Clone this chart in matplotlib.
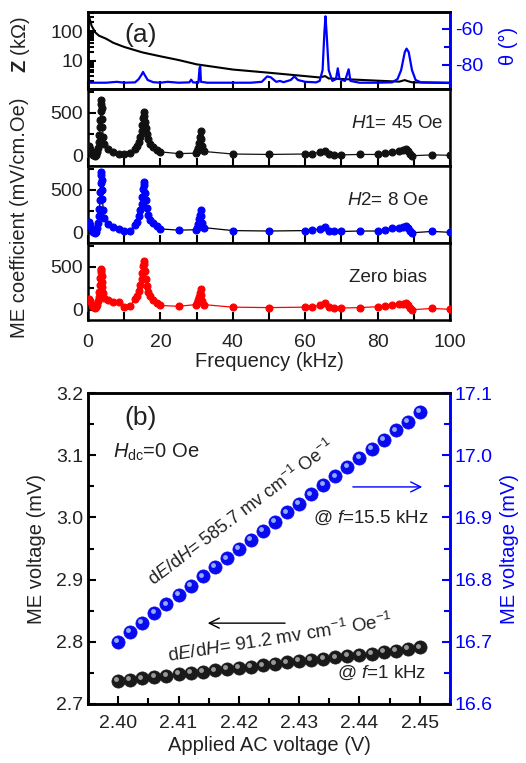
import matplotlib
matplotlib.use("Agg")
import matplotlib.pyplot as plt
from matplotlib.ticker import MultipleLocator, NullFormatter
from matplotlib.transforms import offset_copy

plt.rcParams['font.family'] = ['Liberation Sans', 'DejaVu Sans']
plt.rcParams['mathtext.fontset'] = 'custom'
plt.rcParams['mathtext.rm'] = 'Liberation Sans'
plt.rcParams['mathtext.it'] = 'Liberation Sans:italic'
plt.rcParams['mathtext.bf'] = 'Liberation Sans:bold'
plt.rcParams['axes.unicode_minus'] = False

TXT = '#222222'
BLUE = '#0000ff'
TS = 14     # tick label size
LS = 14.5   # axis label size

# ---- panel (a) top: impedance and phase ----
z_freq = [0.1, 0.5, 1, 2, 3, 5, 7, 10, 15, 20, 25, 30, 40, 50, 60, 64, 65.5, 66.5,
          70, 80, 86, 87.5, 88.5, 89.5, 100]
z_val = [400, 250, 150, 90, 70, 55, 40, 29, 19, 14, 10.5, 7.5, 5.0, 3.9, 3.0, 2.7, 3.0, 2.5,
         2.4, 2.1, 1.95, 2.2, 2.0, 1.85, 1.75]

th_freq = [0, 0.5, 5, 8, 10, 13, 14, 14.8, 15.2, 15.6, 16.5, 18, 20, 22, 25, 28, 28.5, 29,
           30.5, 30.8, 31, 31.2, 33, 45, 48, 49.5, 50.5, 52, 53, 54, 56, 57, 58, 60, 63, 64,
           64.8, 65.3, 65.6, 65.9, 66.5, 67.5, 68.5, 69, 69.5, 71, 72, 72.5, 75, 80, 84, 85.5,
           86.5, 87.5, 88, 88.6, 89.5, 90.5, 92, 100]
th_val = [-87, -90, -90, -89.5, -90, -89.8, -88, -85.5, -84, -85.5, -88.5, -89.7, -90, -89.5,
          -90, -89.8, -88.3, -89.8, -90, -82, -81, -89.5, -90, -90, -89.5, -86.5, -87, -89.5,
          -89, -89.7, -88.5, -86.5, -88.5, -89.5, -89.8, -89, -83, -62, -53, -62, -83, -89,
          -88, -82, -88, -89, -82.5, -89, -90, -90, -89.8, -88, -83, -73, -71, -73, -83,
          -88.5, -89.8, -90]

# ---- panel (a) ME coefficient vs frequency ----
me_freq = [0.2, 0.6, 1.0, 1.4, 1.8, 2.2, 2.5, 2.8, 3.0, 3.15, 3.3, 3.4, 3.5, 3.6, 3.7, 3.8,
           3.9, 4.0, 4.2, 4.5, 5.5, 7.0, 8.5, 10.0, 11.5, 13.0, 13.6, 14.1, 14.5, 14.8, 15.0,
           15.2, 15.4, 15.6, 15.8, 16.0, 16.3, 16.7, 17.2, 18.0, 19.0, 20.0, 25.0, 29.8, 30.2,
           30.5, 30.7, 30.9, 31.1, 31.3, 31.6, 32.0, 40.0, 50.0, 60.0, 62.0, 64.0, 65.5, 66.5,
           68.0, 70.0, 75.0, 80.0, 82.0, 84.0, 86.0, 87.0, 87.8, 88.4, 89.0, 89.6, 95.0, 100.0]
me_h1 = [110, 80, 40, 10, 0, 10, 40, 90, 160, 240, 330, 420, 520, 610, 650, 560, 430, 330,
         220, 140, 80, 45, 25, 20, 30, 80, 110, 160, 220, 290, 360, 440, 510, 470, 390, 320,
         250, 190, 140, 100, 70, 45, 25, 30, 50, 90, 150, 220, 290, 200, 110, 50, 20, 15, 20,
         25, 40, 60, 15, 10, 10, 15, 15, 30, 45, 55, 65, 75, 50, 25, 0, 10, 5]
me_h2 = [120, 90, 40, 5, -5, 10, 50, 110, 190, 280, 380, 480, 580, 670, 710, 620, 500, 390,
         270, 170, 100, 70, 45, 15, 25, 90, 130, 190, 260, 340, 420, 510, 590, 560, 470, 380,
         290, 210, 150, 110, 75, 45, 30, 35, 60, 100, 160, 210, 270, 190, 110, 60, 25, 20, 25,
         30, 45, 70, 20, 15, 15, 20, 20, 35, 50, 60, 70, 80, 55, 25, 0, 15, 5]
me_zero = [120, 100, 60, 30, 20, 30, 60, 100, 150, 210, 290, 370, 440, 480, 460, 400, 330,
           260, 190, 140, 110, 90, 85, 35, 40, 120, 160, 220, 290, 360, 430, 510, 570, 540,
           450, 360, 280, 210, 160, 110, 75, 50, 40, 60, 80, 110, 150, 200, 240, 170, 100, 60,
           30, 25, 30, 35, 50, 75, 30, 20, 20, 25, 35, 45, 55, 65, 70, 75, 50, 20, 0, 15, 5]

# ---- panel (b) ME voltage vs applied AC voltage ----
ac_volt = [2.400, 2.402, 2.404, 2.406, 2.408, 2.410, 2.412, 2.414, 2.416, 2.418, 2.420,
           2.422, 2.424, 2.426, 2.428, 2.430, 2.432, 2.434, 2.436, 2.438, 2.440, 2.442,
           2.444, 2.446, 2.448, 2.450]
me_1khz = [2.737, 2.739, 2.741, 2.743, 2.745, 2.748, 2.750, 2.752, 2.754, 2.756, 2.758,
           2.760, 2.762, 2.764, 2.767, 2.769, 2.771, 2.773, 2.775, 2.777, 2.779, 2.781,
           2.784, 2.786, 2.788, 2.791]
me_15khz = [16.700, 16.716, 16.731, 16.746, 16.760, 16.775, 16.790, 16.805, 16.820, 16.834,
            16.849, 16.864, 16.878, 16.893, 16.908, 16.922, 16.937, 16.952, 16.966, 16.981,
            16.996, 17.010, 17.025, 17.040, 17.054, 17.070]

W, H = 526, 763
fig = plt.figure(figsize=(W / 100, H / 100), dpi=100)


def fx(px):
    return px / W


def fy(py):
    return 1 - py / H


def style(ax, lw=1.8):
    for s in ax.spines.values():
        s.set_linewidth(lw)
        s.set_color('black')
    ax.tick_params(which='both', direction='in', width=1.5, colors='black',
                   labelcolor=TXT, labelsize=TS, top=False, right=False)
    ax.tick_params(which='major', length=6)
    ax.tick_params(which='minor', length=4)


def blue_right(ax):
    for s in ax.spines.values():
        s.set_linewidth(1.8)
    ax.spines['right'].set_color(BLUE)
    ax.tick_params(axis='y', which='both', direction='in', colors=BLUE, labelcolor=BLUE,
                   width=1.5, labelsize=TS)
    ax.tick_params(axis='y', which='major', length=6)
    ax.tick_params(axis='y', which='minor', length=4)


left, right = 88, 450
top_a, bot_a = 12, 320
ph = (bot_a - top_a) / 4
axes_a = []
for i in range(4):
    y0 = top_a + (i + 1) * ph
    ax = fig.add_axes([fx(left), fy(y0), fx(right - left), ph / H])
    style(ax)
    ax.set_xlim(0, 100)
    ax.xaxis.set_major_locator(MultipleLocator(20))
    ax.xaxis.set_minor_locator(MultipleLocator(10))
    ax.tick_params(axis='x', which='both', length=6, pad=10)
    if i < 3:
        ax.tick_params(axis='x', labelbottom=False)
    axes_a.append(ax)

# impedance / phase
axz = axes_a[0]
axz.plot(z_freq, z_val, color='black', lw=1.5)
axz.set_yscale('log')
axz.set_ylim(1.1, 440)
axz.set_yticks([10, 100])
axz.set_yticklabels(['10', '100'])
axz.yaxis.set_minor_formatter(NullFormatter())
axt = axz.twinx()
axt.plot(th_freq, th_val, color=BLUE, lw=1.6)
axt.set_ylim(-93.5, -50.6)
axt.set_yticks([-80, -60])
axt.yaxis.set_minor_locator(MultipleLocator(10))
blue_right(axt)
axz.text(0.145, 0.7, '(a)', transform=axz.transAxes, fontsize=19, color=TXT,
         ha='center', va='center')

me_sets = [(me_h1, '#111111', '$\\it{H1}$= 45 Oe', 0.853),
           (me_h2, BLUE, '$\\it{H2}$= 8 Oe', 0.828),
           (me_zero, '#ff0000', 'Zero bias', 0.828)]
for ax, (vals, col, lab, tx) in zip(axes_a[1:], me_sets):
    lc = 'black' if col == BLUE else col
    ax.plot(me_freq, vals, '-', color=lc, lw=0.9, zorder=2)
    ax.plot(me_freq, vals, 'o', ms=5, mfc=col, mec=col, mew=0.8, zorder=3)
    ax.set_ylim(-120, 780)
    ax.set_yticks([0, 500])
    ax.yaxis.set_minor_locator(MultipleLocator(250))
    ax.text(tx, 0.55, lab, transform=ax.transAxes, fontsize=13.5, color=TXT,
            ha='center', va='center')

axes_a[3].set_xlabel('Frequency (kHz)', fontsize=LS, color=TXT, labelpad=1)
fig.text(fx(20), fy(44), '$\\mathbf{Z}$ (k\u03a9)', rotation=90, fontsize=LS, color=TXT,
         ha='center', va='center')
fig.text(fx(508), fy(46), '\u03b8 (\u00b0)', rotation=90, fontsize=LS, color=BLUE,
         ha='center', va='center')
fig.text(fx(20), fy(218), 'ME coefficient (mV/cm.Oe)', rotation=90, fontsize=LS,
         color=TXT, ha='center', va='center')

# ---- panel (b) ----
axb = fig.add_axes([fx(left), fy(704), fx(right - left), (704 - 393) / H])
style(axb)
axb.set_xlim(2.395, 2.455)
axb.set_ylim(2.7, 3.2)
axb.xaxis.set_minor_locator(MultipleLocator(0.005))
axb.yaxis.set_major_locator(MultipleLocator(0.1))
axb.yaxis.set_minor_locator(MultipleLocator(0.05))
axb.set_xticks([2.40, 2.41, 2.42, 2.43, 2.44, 2.45])
axb.set_xticklabels(['2.40', '2.41', '2.42', '2.43', '2.44', '2.45'])
axb.tick_params(axis='x', which='both', pad=8)
axb.set_xlabel('Applied AC voltage (V)', fontsize=LS, color=TXT, labelpad=3)
axb.set_ylabel('ME voltage (mV)', fontsize=LS, color=TXT, labelpad=7)

axr = axb.twinx()
axr.set_ylim(16.6, 17.1)
axr.yaxis.set_major_locator(MultipleLocator(0.1))
axr.yaxis.set_minor_locator(MultipleLocator(0.05))
blue_right(axr)
axr.set_ylabel('ME voltage (mV)', fontsize=LS, color=BLUE, labelpad=5)


def balls(ax, x, y, base, hl):
    ax.plot(x, y, 'o', ms=9.5, mfc=base, mec=base, mew=0.5, zorder=3)
    tr = offset_copy(ax.transData, fig=fig, x=-1.8, y=1.8, units='dots')
    ax.plot(x, y, 'o', ms=3.5, mfc=hl, mec=hl, mew=0, alpha=0.85, transform=tr, zorder=4)


balls(axb, ac_volt, me_1khz, '#1a1a1a', '#b0b0b0')
balls(axr, ac_volt, me_15khz, '#0a0af0', '#a8c8ff')

axb.text(0.144, 0.92, '(b)', transform=axb.transAxes, fontsize=19, color=TXT,
         ha='center', va='center')
axb.text(0.069, 0.81, '$\\it{H}_{\\rm dc}$=0 Oe', transform=axb.transAxes, fontsize=14.5,
         color=TXT, ha='left', va='center')
axb.text(0.425, 0.614, 'd$\\it{E}$/d$\\it{H}$= 585.7 mv cm$^{-1}$ Oe$^{-1}$',
         transform=axb.transAxes, fontsize=13, color=TXT, rotation=37,
         ha='center', va='center', rotation_mode='anchor')
axb.text(0.53, 0.21, 'd$\\it{E}$/d$\\it{H}$= 91.2 mv cm$^{-1}$ Oe$^{-1}$',
         transform=axb.transAxes, fontsize=13.5, color=TXT, rotation=9,
         ha='center', va='center', rotation_mode='anchor')
axb.text(0.78, 0.598, '@ $\\it{f}$=15.5 kHz', transform=axb.transAxes, fontsize=13.5,
         color=TXT, ha='center', va='center')
axb.text(0.81, 0.10, '@ $\\it{f}$=1 kHz', transform=axb.transAxes, fontsize=13.5,
         color=TXT, ha='center', va='center')
axb.annotate('', xy=(0.323, 0.26), xytext=(0.552, 0.26), xycoords='axes fraction',
             arrowprops=dict(arrowstyle='->', color='black', lw=1.0,
                             mutation_scale=18))
axb.annotate('', xy=(0.931, 0.698), xytext=(0.724, 0.698), xycoords='axes fraction',
             arrowprops=dict(arrowstyle='->', color=BLUE, lw=1.0, mutation_scale=18))

fig.savefig('out.png', dpi=100)
